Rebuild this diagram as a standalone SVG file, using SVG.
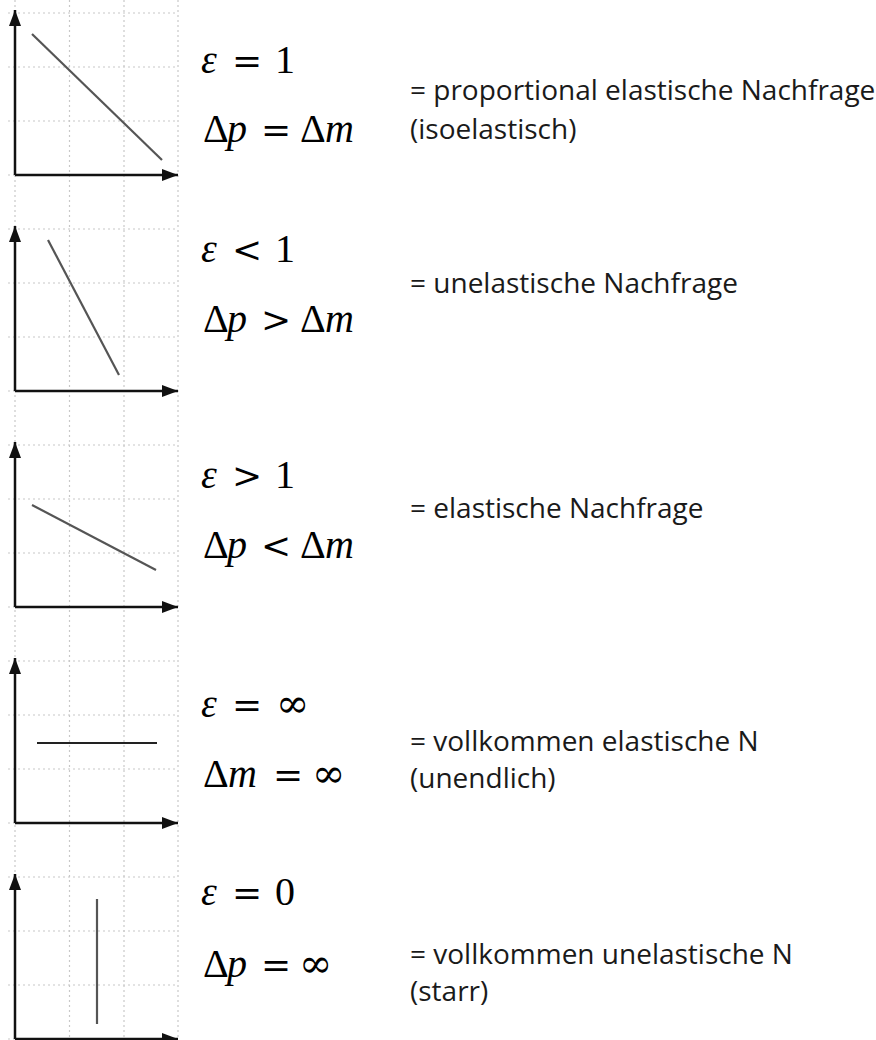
<svg xmlns="http://www.w3.org/2000/svg" width="876" height="1040" viewBox="0 0 876 1040">
<style>
.grid{stroke:#c8c8c8;stroke-width:1.2;stroke-dasharray:2 3;fill:none}
.axis{stroke:#111;stroke-width:2.5;fill:none}
.curve{stroke:#555;stroke-width:2.2;fill:none}
.m{font-family:"Liberation Serif","Times New Roman",serif;font-size:40px;fill:#000}
.i{font-style:italic}
.o{font-family:"DejaVu Serif",serif;font-size:36px}
.inf{font-family:"DejaVu Serif",serif;font-size:40px}
.lbl{font-family:"Open Sans","Noto Sans",sans-serif;font-size:28px;fill:#1a1a1a}
</style>
<defs>
<marker id="ah" viewBox="0 0 16 12" refX="16" refY="6" markerWidth="16" markerHeight="12" markerUnits="userSpaceOnUse" orient="auto">
<path d="M0,0 L16,6 L0,12 Z" fill="#111"/>
</marker>
</defs>
<rect width="876" height="1040" fill="#fff"/>
<g id="grid" class="grid">
<path d="M15,0V1040 M69.5,0V1040 M124,0V1040 M178,0V1040"/>
<path d="M8,13H178 M8,67H178 M8,121H178 M8,175H178 M8,229H178 M8,283H178 M8,337H178 M8,391H178 M8,445H178 M8,499H178 M8,553H178 M8,607H178 M8,661H178 M8,715H178 M8,769H178 M8,823H178 M8,877H178 M8,931H178 M8,985H178 M8,1039H178"/>
</g>
<g id="connectors">
<g id="axes" class="axis">
<path d="M15,175V10" marker-end="url(#ah)"/><path d="M15,175H178" marker-end="url(#ah)"/>
<path d="M15,391V226" marker-end="url(#ah)"/><path d="M15,391H178" marker-end="url(#ah)"/>
<path d="M15,607V442" marker-end="url(#ah)"/><path d="M15,607H178" marker-end="url(#ah)"/>
<path d="M15,823V658" marker-end="url(#ah)"/><path d="M15,823H178" marker-end="url(#ah)"/>
<path d="M15,1039V874" marker-end="url(#ah)"/><path d="M15,1039H178" marker-end="url(#ah)"/>
</g>
<g id="curves" class="curve">
<path d="M32,34L162,160"/>
<path d="M48,240L119,375"/>
<path d="M32,505L156,570"/>
<path d="M37,743H157" style="stroke:#222"/>
<path d="M97,899V1024"/>
</g>
</g>
<g id="n1">
<text class="m"><tspan class="i" x="201" y="73">ε</tspan><tspan class="o" x="232" y="73">=</tspan><tspan x="275" y="73">1</tspan></text>
<text class="m"><tspan x="203" y="142">Δ</tspan><tspan class="i" x="227" y="142">p</tspan><tspan class="o" x="261" y="142">=</tspan><tspan x="300" y="142">Δ</tspan><tspan class="i" x="325" y="142">m</tspan></text>
<text class="lbl" x="410" y="100">= proportional elastische Nachfrage</text>
<text class="lbl" x="410" y="139">(isoelastisch)</text>
</g>
<g id="n2">
<text class="m"><tspan class="i" x="201" y="262">ε</tspan><tspan class="o" x="232" y="262">&lt;</tspan><tspan x="275" y="262">1</tspan></text>
<text class="m"><tspan x="203" y="332">Δ</tspan><tspan class="i" x="227" y="332">p</tspan><tspan class="o" x="261" y="332">&gt;</tspan><tspan x="300" y="332">Δ</tspan><tspan class="i" x="325" y="332">m</tspan></text>
<text class="lbl" x="410" y="293">= unelastische Nachfrage</text>
</g>
<g id="n3">
<text class="m"><tspan class="i" x="201" y="488">ε</tspan><tspan class="o" x="232" y="488">&gt;</tspan><tspan x="275" y="488">1</tspan></text>
<text class="m"><tspan x="203" y="558">Δ</tspan><tspan class="i" x="227" y="558">p</tspan><tspan class="o" x="261" y="558">&lt;</tspan><tspan x="300" y="558">Δ</tspan><tspan class="i" x="325" y="558">m</tspan></text>
<text class="lbl" x="410" y="518">= elastische Nachfrage</text>
</g>
<g id="n4">
<text class="m"><tspan class="i" x="201" y="717">ε</tspan><tspan class="o" x="232" y="717">=</tspan><tspan class="inf" x="276" y="717">∞</tspan></text>
<text class="m"><tspan x="203" y="787">Δ</tspan><tspan class="i" x="228" y="787">m</tspan><tspan class="o" x="273" y="787">=</tspan><tspan class="inf" x="312" y="787">∞</tspan></text>
<text class="lbl" x="410" y="751">= vollkommen elastische N</text>
<text class="lbl" x="410" y="788">(unendlich)</text>
</g>
<g id="n5">
<text class="m"><tspan class="i" x="201" y="905">ε</tspan><tspan class="o" x="232" y="905">=</tspan><tspan x="275" y="905">0</tspan></text>
<text class="m"><tspan x="203" y="977">Δ</tspan><tspan class="i" x="227" y="977">p</tspan><tspan class="o" x="261" y="977">=</tspan><tspan class="inf" x="299" y="977">∞</tspan></text>
<text class="lbl" x="410" y="964">= vollkommen unelastische N</text>
<text class="lbl" x="410" y="1001">(starr)</text>
</g>
</svg>
